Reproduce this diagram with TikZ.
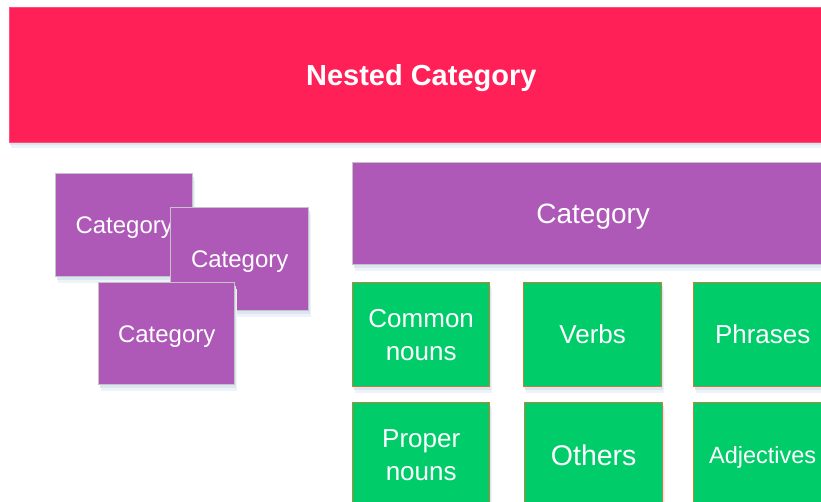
\documentclass[tikz,border=0pt]{standalone}
\usepackage{fontspec}
\setmainfont{Liberation Sans}
\usetikzlibrary{shadows}
\definecolor{redc}{HTML}{FF2058}
\definecolor{purc}{HTML}{AE59B7}
\definecolor{grnc}{HTML}{00CC6A}
\definecolor{brnc}{HTML}{BE8434}
\definecolor{grayb}{HTML}{C4C4C4}
\definecolor{shA}{HTML}{EEF3FA}
\definecolor{shB}{HTML}{DCE6F3}
\tikzset{
  softshadow/.style={general shadow={fill=shA, shadow xshift=2pt, shadow yshift=-6pt},
                     general shadow={fill=shB, shadow xshift=1pt, shadow yshift=-3pt}},
  box/.style={rectangle, anchor=north west, inner sep=0pt, text=white, align=center, softshadow},
  oneline/.style={text depth=0pt},
  redbox/.style={box, fill=redc, draw=redc!80!white, line width=0.6pt},
  purbox/.style={box, fill=purc, draw=grayb, line width=1.4pt},
  grnbox/.style={box, fill=grnc, draw=brnc, line width=1.4pt, minimum width=137pt, minimum height=104pt,
                 font=\fontsize{26}{33}\selectfont},
  smallcat/.style={purbox, oneline, minimum width=137pt, minimum height=103pt, font=\fontsize{24}{30}\selectfont}
}
\begin{document}
\begin{tikzpicture}[x=1pt,y=-1pt]
\useasboundingbox (0,0) rectangle (821,502);
\clip (0,0) rectangle (821,502);
\fill[white] (0,0) rectangle (821,502);
% top banner
\node[redbox, oneline, minimum width=824pt, minimum height=135pt, font=\bfseries\fontsize{29}{34}\selectfont] (nested) at (9,7) {Nested Category};
% left cluster
\node[smallcat] (catA) at (55,173) {Category};
\node[smallcat, minimum width=138pt] (catB) at (170,207) {Category};
\node[smallcat, minimum width=136pt, minimum height=102pt] (catC) at (98,282) {Category};
% big category
\node[purbox, oneline, minimum width=481pt, minimum height=102pt, font=\fontsize{28}{34}\selectfont] (catbig) at (352,162) {Category};
% green boxes row 1
\node[grnbox] (common) at (352,282) {Common\\nouns};
\node[grnbox, text depth=2pt, minimum width=138pt] (verbs) at (523,282) {Verbs};
\node[grnbox, text depth=2pt, minimum width=138pt] (phrases) at (693,282) {Phrases};
% row 2
\node[grnbox] (proper) at (352,402) {Proper\\nouns};
\node[grnbox, oneline, minimum width=138pt, font=\fontsize{28.5}{34}\selectfont] (others) at (524,402) {Others};
\node[grnbox, oneline, minimum width=138pt, font=\fontsize{23.5}{30}\selectfont] (adj) at (693,402) {Adjectives};
\end{tikzpicture}
\end{document}
